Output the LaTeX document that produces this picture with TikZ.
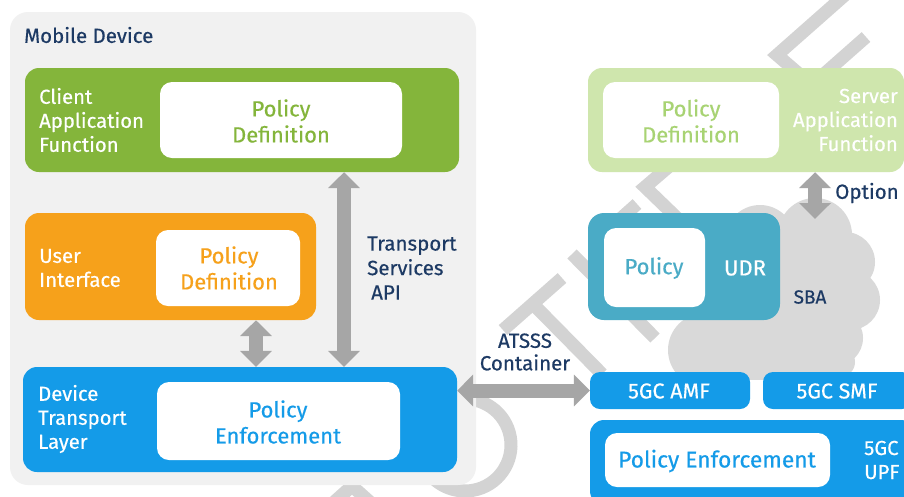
\documentclass[tikz,border=0pt]{standalone}
\usepackage{fontspec}
\setmainfont{Fira Sans}[FakeBold=0.4]
\usetikzlibrary{arrows.meta,fit}
\definecolor{devbg}{HTML}{F1F1F1}
\definecolor{cafgreen}{HTML}{84B53B}
\definecolor{uiorange}{HTML}{F6A11B}
\definecolor{dtlblue}{HTML}{149BE8}
\definecolor{safgreen}{HTML}{CFE6AD}
\definecolor{saftext}{HTML}{A8D373}
\definecolor{udrteal}{HTML}{4AABC6}
\definecolor{arrowgray}{HTML}{A6A6A6}
\definecolor{cloudgray}{HTML}{D9D9D9}
\definecolor{wmgray}{HTML}{D3D3D3}
\definecolor{navy}{HTML}{1D3A64}
\begin{document}
\begin{tikzpicture}[x=1pt,y=-1pt,
  box/.style={rounded corners=14pt, inner sep=0pt, draw=none},
  inbox/.style={rounded corners=12pt, inner sep=0pt, draw=none, fill=white},
  smallbox/.style={rounded corners=10pt, inner sep=0pt, draw=none},
  whitelbl/.style={text=white, align=left, inner sep=0pt, font=\fontsize{20.3}{24}\selectfont},
  navylbl/.style={text=navy, align=left, inner sep=0pt, font=\fontsize{20.5}{24.5}\selectfont},
  pol/.style={align=center, inner sep=0pt, font=\fontsize{22}{26}\selectfont},
  fat/.style={draw=arrowgray, line width=14pt,
     {Triangle[width=31pt,length=16pt]}-{Triangle[width=31pt,length=16pt]}},
  wm/.style={draw=wmgray, line width=13pt, line join=miter}
]
\useasboundingbox (0,0) rectangle (904,496);
\clip (0,0) rectangle (904,496);
\fill[white] (0,0) rectangle (904,496);

% watermark fragments
\draw[wm] (845,-5) -- (777,55) -- (835,105);
\draw[wm] (815,82) -- (866,37);
\draw[wm] (680,157) -- (645,187) -- (705,245);
\draw[wm] (600,237) -- (637,204);
\draw[wm] (572,254) -- (655,338);
\draw[wm] (503,330) -- (562,278);
\draw[wm] (533,304) -- (602,374);
\draw[wm] (465,445) ++(-100:46) arc[start angle=-100,end angle=150,radius=46];
\draw[wm] (333,503) -- (352,486) -- (371,503);

% cloud (SBA)
\foreach \cx/\cy/\r in {760/240/35, 815/235/37, 845/262/30, 850/300/30,
    835/338/28, 705/350/37, 770/320/60, 840/362/15}
  \fill[cloudgray] (\cx,\cy) circle[radius=\r];
\fill[cloudgray] (720,250) rectangle (840,380);

% mobile device background
\node[box, rounded corners=18pt, fill=devbg, fit={(10,12) (476,485)}] (dev) {};
\node[navylbl, anchor=west] (devlbl) at (24,35) {Mobile Device};

% client application function
\node[box, fill=cafgreen, fit={(25,68) (459,172)}] (caf) {};
\node[inbox, fit={(160,82) (402,158)}] (cafin) {};
\node[whitelbl, anchor=west] (caflbl) at (39,120) {Client\\Application\\Function};
\node[pol, text=cafgreen] (cafpol) at (281,121) {Policy\\Definition};

% user interface
\node[box, fill=uiorange, fit={(25,213) (316,320)}] (ui) {};
\node[inbox, fit={(156,230) (300,306)}] (uiin) {};
\node[whitelbl, anchor=west] (uilbl) at (39,268) {User\\Interface};
\node[pol, text=uiorange] (uipol) at (229,268) {Policy\\Definition};

% device transport layer
\node[box, fill=dtlblue, fit={(23,367) (457,472)}] (dtl) {};
\node[inbox, fit={(157,382) (400,460)}] (dtlin) {};
\node[whitelbl, anchor=west] (dtllbl) at (38,419) {Device\\Transport\\Layer};
\node[pol, text=dtlblue] (dtlpol) at (278,422) {Policy\\Enforcement};

% server application function
\node[box, fill=safgreen, fit={(588,68) (904,172)}] (saf) {};
\node[inbox, fit={(603,82) (779,158)}] (safin) {};
\node[whitelbl, align=right, anchor=east] (saflbl) at (898,120) {Server\\Application\\Function};
\node[pol, text=saftext] (safpol) at (691,121) {Policy\\Definition};

% UDR
\node[box, rounded corners=16pt, fill=udrteal, fit={(588,213) (780,320)}] (udr) {};
\node[inbox, fit={(604,228) (705,307)}] (udrin) {};
\node[pol, text=udrteal] (udrpol) at (654,268) {Policy};
\node[whitelbl, font=\fontsize{22}{24}\selectfont] (udrlbl) at (745,268) {UDR};
\node[navylbl, font=\fontsize{19}{22}\selectfont] (sba) at (810,297) {SBA};

% 5GC boxes
\node[smallbox, fill=dtlblue, fit={(590,372) (750,409)}] (amf) {};
\node[whitelbl, font=\fontsize{21.5}{24}\selectfont] (amflbl) at (669,391) {5GC AMF};
\node[smallbox, fill=dtlblue, fit={(763,372) (912,409)}] (smf) {};
\node[whitelbl, font=\fontsize{21.5}{24}\selectfont] (smflbl) at (837,391) {5GC SMF};
\node[box, fill=dtlblue, fit={(590,420) (915,505)}] (upf) {};
\node[inbox, fit={(605,433) (830,487)}] (upfin) {};
\node[pol, text=dtlblue, font=\fontsize{22.8}{26}\selectfont] (upfpol) at (717,461) {Policy Enforcement};
\node[whitelbl, anchor=west] (upflbl) at (864,460) {5GC\\UPF};

% arrows
\coordinate (uix) at (256,0);
\coordinate (tsx) at (344,0);
\coordinate (optx) at (815,0);
\coordinate (optend) at (815,219);
\draw[fat] (ui.south -| uix) -- (dtl.north -| uix);
\draw[fat] (caf.south -| tsx) -- (dtl.north -| tsx);
\draw[fat] (saf.south -| optx) -- (optend);
\draw[fat] (dtl.east |- amf.west) -- (amf.west);

% arrow labels
\node[navylbl, anchor=west] (tslbl) at (367,268) {Transport\\Services\\\hspace*{4pt}API};
\node[navylbl, align=center, font=\fontsize{20.5}{22.5}\selectfont] (atlbl) at (525,352) {ATSSS\\Container};
\node[navylbl, anchor=west] (optlbl) at (835,193) {Option};
\end{tikzpicture}
\end{document}
